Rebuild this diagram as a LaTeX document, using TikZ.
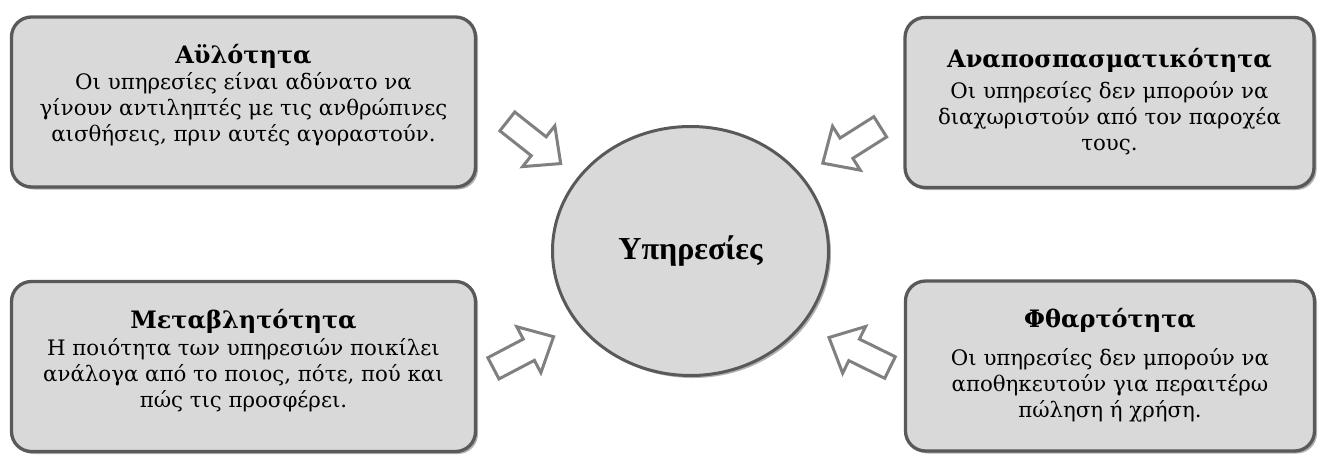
\documentclass[tikz,border=0pt]{standalone}
\usepackage{fontspec}
\setmainfont{Liberation Serif}
\newfontfamily\boxfont{DejaVu Serif}
\usetikzlibrary{shadows,shapes.geometric}
\definecolor{boxfill}{HTML}{D9D9D9}
\definecolor{boxline}{HTML}{595959}
\definecolor{arrline}{HTML}{808080}
\tikzset{
  softshadow/.style={drop shadow={shadow xshift=2.5pt, shadow yshift=-2.5pt, opacity=0.3, fill=black}},
  infobox/.style={draw=boxline, line width=3.3pt, fill=boxfill, rounded corners=20pt,
    minimum width=#1, minimum height=170pt, inner sep=0pt, softshadow},
  boxtext/.style={anchor=north, align=center, inner sep=0pt,
    font=\boxfont\fontsize{21.3}{26}\selectfont},
  hub/.style={ellipse, draw=boxline, line width=3pt, fill=boxfill, minimum width=276pt,
    minimum height=249pt, inner sep=0pt, font=\fontsize{32}{36}\selectfont\bfseries, softshadow},
  blockarr/.style={draw=arrline, line width=3pt, fill=white, line join=miter}
}
\newcommand{\ttl}[1]{{\rule{0pt}{22pt}\fontsize{24}{26}\selectfont\bfseries #1}}
\newcommand{\blockarrow}[4]{% name, x, y, angle
  \begin{scope}[shift={(#2,#3)}, rotate=#4]
    \draw[blockarr] (-34,-12) -- (6,-12) -- (6,-26) -- (34,0) -- (6,26) -- (6,12) -- (-34,12) -- cycle;
    \coordinate (#1) at (0,0);
  \end{scope}}
\begin{document}
\begin{tikzpicture}[x=1pt, y=-1pt]
  \useasboundingbox (0,0) rectangle (1320,456);
  \node[infobox=464pt] (tl) at (243.5,102) {};
  \node[infobox=464pt] (bl) at (243.5,366.5) {};
  \node[infobox=409pt] (tr) at (1109.5,102.5) {};
  \node[infobox=409pt] (br) at (1110,366) {};
  \node[boxtext] (tltext) at (243.5,41) {\ttl{Αϋλότητα}\\[0pt]Οι υπηρεσίες είναι αδύνατο να\\γίνουν αντιληπτές με τις ανθρώπινες\\αισθήσεις, πριν αυτές αγοραστούν.};
  \node[boxtext] (bltext) at (243.5,306) {\ttl{Μεταβλητότητα}\\[1pt]Η ποιότητα των υπηρεσιών ποικίλει\\ανάλογα από το ποιος, πότε, πού και\\πώς τις προσφέρει.};
  \node[boxtext] (trtext) at (1109.5,45) {\ttl{Αναποσπασματικότητα}\\[5pt]Οι υπηρεσίες δεν μπορούν να\\διαχωριστούν από τον παροχέα\\τους.};
  \node[boxtext] (brtext) at (1110,305) {\ttl{Φθαρτότητα}\\[12pt]Οι υπηρεσίες δεν μπορούν να\\αποθηκευτούν για περαιτέρω\\πώληση ή χρήση.};
  \node[hub] (hub) at (690.5,251) {Υπηρεσίες};
  \blockarrow{a1}{534}{142.5}{-38.3}
  \blockarrow{a2}{523.5}{352.5}{27.7}
  \blockarrow{a3}{851.5}{145}{-147.7}
  \blockarrow{a4}{859.5}{352.5}{153.8}
\end{tikzpicture}
\end{document}
